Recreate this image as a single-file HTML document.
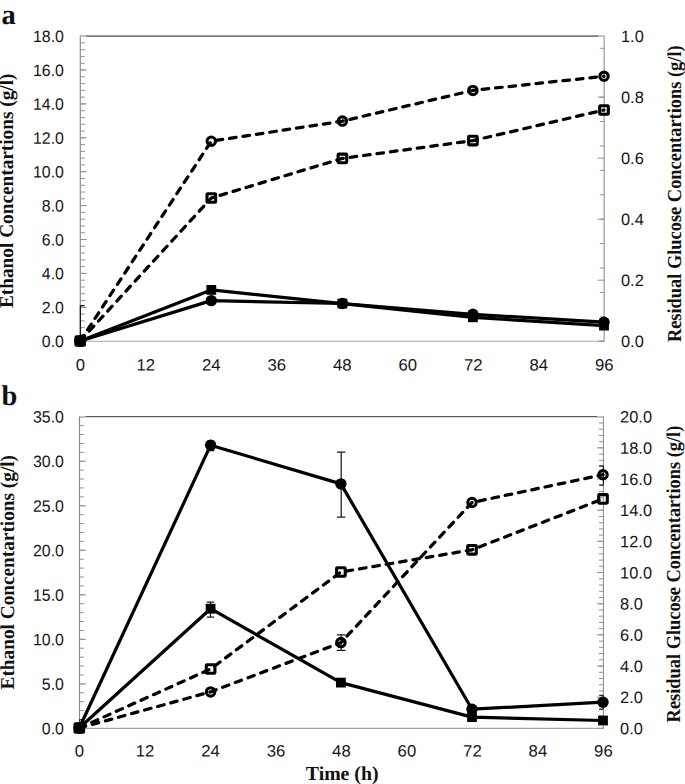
<!DOCTYPE html><html><head><meta charset="utf-8"><title>chart</title><style>
html,body{margin:0;padding:0;background:#fff;}
svg{display:block;position:absolute;left:0;top:0}
text{text-rendering:geometricPrecision}
.t{font-family:"Liberation Sans",sans-serif;font-size:16.4px;fill:#161616}
.b{font-family:"Liberation Serif",serif;font-weight:bold;fill:#111}
</style></head><body>
<svg width="685" height="784" viewBox="0 0 685 784">
<rect width="685" height="784" fill="#fff"/>
<path d="M80.3,36.1H604.2" stroke="#7c7c7c" stroke-width="1.7" fill="none"/>
<path d="M80.3,36.1V341.2" stroke="#8a8a8a" stroke-width="1.15" fill="none"/>
<path d="M604.2,36.1V341.2" stroke="#b2b2b2" stroke-width="1.6" fill="none"/>
<path d="M80.3,341.2H604.2" stroke="#a6a6a6" stroke-width="1.15" fill="none"/>
<path d="M80.3,341.20h4.6M80.3,334.42h4.6M80.3,327.64h4.6M80.3,320.86h4.6M80.3,314.08h4.6M80.3,307.30h4.6M80.3,300.52h4.6M80.3,293.74h4.6M80.3,286.96h4.6M80.3,280.18h4.6M80.3,273.40h4.6M80.3,266.62h4.6M80.3,259.84h4.6M80.3,253.06h4.6M80.3,246.28h4.6M80.3,239.50h4.6M80.3,232.72h4.6M80.3,225.94h4.6M80.3,219.16h4.6M80.3,212.38h4.6M80.3,205.60h4.6M80.3,198.82h4.6M80.3,192.04h4.6M80.3,185.26h4.6M80.3,178.48h4.6M80.3,171.70h4.6M80.3,164.92h4.6M80.3,158.14h4.6M80.3,151.36h4.6M80.3,144.58h4.6M80.3,137.80h4.6M80.3,131.02h4.6M80.3,124.24h4.6M80.3,117.46h4.6M80.3,110.68h4.6M80.3,103.90h4.6M80.3,97.12h4.6M80.3,90.34h4.6M80.3,83.56h4.6M80.3,76.78h4.6M80.3,70.00h4.6M80.3,63.22h4.6M80.3,56.44h4.6M80.3,49.66h4.6M80.3,42.88h4.6M80.3,36.10h4.6M80.3,341.20h6.5M80.3,307.30h6.5M80.3,273.40h6.5M80.3,239.50h6.5M80.3,205.60h6.5M80.3,171.70h6.5M80.3,137.80h6.5M80.3,103.90h6.5M80.3,70.00h6.5M80.3,36.10h6.5" stroke="#939393" stroke-width="1" fill="none"/>
<path d="M604.2,341.20h-4.4M604.2,316.79h-4.4M604.2,292.38h-4.4M604.2,267.98h-4.4M604.2,243.57h-4.4M604.2,219.16h-4.4M604.2,194.75h-4.4M604.2,170.34h-4.4M604.2,145.94h-4.4M604.2,121.53h-4.4M604.2,97.12h-4.4M604.2,72.71h-4.4M604.2,48.30h-4.4M604.2,341.20h-6.5M604.2,280.18h-6.5M604.2,219.16h-6.5M604.2,158.14h-6.5M604.2,97.12h-6.5M604.2,36.10h-6.5" stroke="#939393" stroke-width="1" fill="none"/>
<path d="M80.3,36.1h6M604.2,36.1h-6" stroke="#c4c4c4" stroke-width="1.7" fill="none"/>
<text class="t" transform="translate(63.9,347.1) scale(0.97,1) rotate(0.03)" text-anchor="end">0.0</text>
<text class="t" transform="translate(63.9,313.2) scale(0.97,1) rotate(0.03)" text-anchor="end">2.0</text>
<text class="t" transform="translate(63.9,279.3) scale(0.97,1) rotate(0.03)" text-anchor="end">4.0</text>
<text class="t" transform="translate(63.9,245.4) scale(0.97,1) rotate(0.03)" text-anchor="end">6.0</text>
<text class="t" transform="translate(63.9,211.5) scale(0.97,1) rotate(0.03)" text-anchor="end">8.0</text>
<text class="t" transform="translate(63.9,177.6) scale(0.97,1) rotate(0.03)" text-anchor="end">10.0</text>
<text class="t" transform="translate(63.9,143.7) scale(0.97,1) rotate(0.03)" text-anchor="end">12.0</text>
<text class="t" transform="translate(63.9,109.8) scale(0.97,1) rotate(0.03)" text-anchor="end">14.0</text>
<text class="t" transform="translate(63.9,75.9) scale(0.97,1) rotate(0.03)" text-anchor="end">16.0</text>
<text class="t" transform="translate(63.9,42.0) scale(0.97,1) rotate(0.03)" text-anchor="end">18.0</text>
<text class="t" transform="translate(621.0,347.1) scale(1.0,1) rotate(0.03)" text-anchor="start">0.0</text>
<text class="t" transform="translate(621.0,286.1) scale(1.0,1) rotate(0.03)" text-anchor="start">0.2</text>
<text class="t" transform="translate(621.0,225.1) scale(1.0,1) rotate(0.03)" text-anchor="start">0.4</text>
<text class="t" transform="translate(621.0,164.0) scale(1.0,1) rotate(0.03)" text-anchor="start">0.6</text>
<text class="t" transform="translate(621.0,103.0) scale(1.0,1) rotate(0.03)" text-anchor="start">0.8</text>
<text class="t" transform="translate(621.0,42.0) scale(1.0,1) rotate(0.03)" text-anchor="start">1.0</text>
<text class="t" transform="translate(80.3,370.6) scale(1.02,1) rotate(0.03)" text-anchor="middle">0</text>
<text class="t" transform="translate(145.8,370.6) scale(1.02,1) rotate(0.03)" text-anchor="middle">12</text>
<text class="t" transform="translate(211.3,370.6) scale(1.02,1) rotate(0.03)" text-anchor="middle">24</text>
<text class="t" transform="translate(276.8,370.6) scale(1.02,1) rotate(0.03)" text-anchor="middle">36</text>
<text class="t" transform="translate(342.3,370.6) scale(1.02,1) rotate(0.03)" text-anchor="middle">48</text>
<text class="t" transform="translate(407.7,370.6) scale(1.02,1) rotate(0.03)" text-anchor="middle">60</text>
<text class="t" transform="translate(473.2,370.6) scale(1.02,1) rotate(0.03)" text-anchor="middle">72</text>
<text class="t" transform="translate(538.7,370.6) scale(1.02,1) rotate(0.03)" text-anchor="middle">84</text>
<text class="t" transform="translate(604.2,370.6) scale(1.02,1) rotate(0.03)" text-anchor="middle">96</text>
<path d="M80.4,341V305.6h4.1" stroke="#1a1a1a" stroke-width="1.3" fill="none"/>
<path d="M80.2,341.0 L211.3,141.2 L342.4,121.1 L472.9,90.4 L604.0,76.3" fill="none" stroke="#000" stroke-width="3.25" stroke-dasharray="6.6 6.95" stroke-linecap="round" stroke-linejoin="round"/>
<path d="M80.2,341.0 L211.3,198.0 L342.4,158.4 L472.9,140.6 L604.0,110.0" fill="none" stroke="#000" stroke-width="3.25" stroke-dasharray="6.6 6.95" stroke-linecap="round" stroke-linejoin="round"/>
<path d="M80.2,341.0 L211.3,300.6 L342.4,303.5 L472.9,314.3 L604.0,322.2" fill="none" stroke="#000" stroke-width="3.2" stroke-linejoin="round"/>
<path d="M80.2,341.0 L211.3,289.9 L342.4,303.6 L472.9,317.3 L604.0,325.6" fill="none" stroke="#000" stroke-width="3.2" stroke-linejoin="round"/>
<circle cx="80.2" cy="341.0" r="4.2" fill="none" stroke="#000" stroke-width="3.1"/>
<circle cx="211.3" cy="141.2" r="4.2" fill="none" stroke="#000" stroke-width="3.1"/>
<circle cx="342.4" cy="121.1" r="4.2" fill="none" stroke="#000" stroke-width="3.1"/>
<circle cx="472.9" cy="90.4" r="4.2" fill="none" stroke="#000" stroke-width="3.1"/>
<circle cx="604.0" cy="76.3" r="4.2" fill="none" stroke="#000" stroke-width="3.1"/>
<rect x="75.9" y="336.7" width="8.6" height="8.6" rx="0.6" fill="none" stroke="#000" stroke-width="3.1"/>
<rect x="207.0" y="193.7" width="8.6" height="8.6" rx="0.6" fill="none" stroke="#000" stroke-width="3.1"/>
<rect x="338.1" y="154.1" width="8.6" height="8.6" rx="0.6" fill="none" stroke="#000" stroke-width="3.1"/>
<rect x="468.6" y="136.3" width="8.6" height="8.6" rx="0.6" fill="none" stroke="#000" stroke-width="3.1"/>
<rect x="599.7" y="105.7" width="8.6" height="8.6" rx="0.6" fill="none" stroke="#000" stroke-width="3.1"/>
<circle cx="80.2" cy="341.0" r="5.7" fill="#000"/>
<circle cx="211.3" cy="300.6" r="5.7" fill="#000"/>
<circle cx="342.4" cy="303.5" r="5.7" fill="#000"/>
<circle cx="472.9" cy="314.3" r="5.7" fill="#000"/>
<circle cx="604.0" cy="322.2" r="5.7" fill="#000"/>
<rect x="75.3" y="336.1" width="9.8" height="9.8" fill="#000"/>
<rect x="206.4" y="285.0" width="9.8" height="9.8" fill="#000"/>
<rect x="337.5" y="298.7" width="9.8" height="9.8" fill="#000"/>
<rect x="468.0" y="312.4" width="9.8" height="9.8" fill="#000"/>
<rect x="599.1" y="320.7" width="9.8" height="9.8" fill="#000"/>
<path d="M79.5,416.7H603.4" stroke="#5a5a5a" stroke-width="1.2" fill="none"/>
<path d="M79.5,416.7V728.4" stroke="#8a8a8a" stroke-width="1.15" fill="none"/>
<path d="M603.4,416.7V728.4" stroke="#8f8f8f" stroke-width="1.1" fill="none"/>
<path d="M79.5,728.4H603.4" stroke="#a6a6a6" stroke-width="1.15" fill="none"/>
<path d="M79.5,728.40h4.6M79.5,719.49h4.6M79.5,710.59h4.6M79.5,701.68h4.6M79.5,692.78h4.6M79.5,683.87h4.6M79.5,674.97h4.6M79.5,666.06h4.6M79.5,657.15h4.6M79.5,648.25h4.6M79.5,639.34h4.6M79.5,630.44h4.6M79.5,621.53h4.6M79.5,612.63h4.6M79.5,603.72h4.6M79.5,594.81h4.6M79.5,585.91h4.6M79.5,577.00h4.6M79.5,568.10h4.6M79.5,559.19h4.6M79.5,550.29h4.6M79.5,541.38h4.6M79.5,532.47h4.6M79.5,523.57h4.6M79.5,514.66h4.6M79.5,505.76h4.6M79.5,496.85h4.6M79.5,487.95h4.6M79.5,479.04h4.6M79.5,470.13h4.6M79.5,461.23h4.6M79.5,452.32h4.6M79.5,443.42h4.6M79.5,434.51h4.6M79.5,425.61h4.6M79.5,416.70h4.6M79.5,728.40h6.5M79.5,683.87h6.5M79.5,639.34h6.5M79.5,594.81h6.5M79.5,550.29h6.5M79.5,505.76h6.5M79.5,461.23h6.5M79.5,416.70h6.5" stroke="#939393" stroke-width="1" fill="none"/>
<path d="M603.4,728.40h-4.4M603.4,722.17h-4.4M603.4,715.93h-4.4M603.4,709.70h-4.4M603.4,703.46h-4.4M603.4,697.23h-4.4M603.4,691.00h-4.4M603.4,684.76h-4.4M603.4,678.53h-4.4M603.4,672.29h-4.4M603.4,666.06h-4.4M603.4,659.83h-4.4M603.4,653.59h-4.4M603.4,647.36h-4.4M603.4,641.12h-4.4M603.4,634.89h-4.4M603.4,628.66h-4.4M603.4,622.42h-4.4M603.4,616.19h-4.4M603.4,609.95h-4.4M603.4,603.72h-4.4M603.4,597.49h-4.4M603.4,591.25h-4.4M603.4,585.02h-4.4M603.4,578.78h-4.4M603.4,572.55h-4.4M603.4,566.32h-4.4M603.4,560.08h-4.4M603.4,553.85h-4.4M603.4,547.61h-4.4M603.4,541.38h-4.4M603.4,535.15h-4.4M603.4,528.91h-4.4M603.4,522.68h-4.4M603.4,516.44h-4.4M603.4,510.21h-4.4M603.4,503.98h-4.4M603.4,497.74h-4.4M603.4,491.51h-4.4M603.4,485.27h-4.4M603.4,479.04h-4.4M603.4,472.81h-4.4M603.4,466.57h-4.4M603.4,460.34h-4.4M603.4,454.10h-4.4M603.4,447.87h-4.4M603.4,441.64h-4.4M603.4,435.40h-4.4M603.4,429.17h-4.4M603.4,422.93h-4.4M603.4,416.70h-4.4M603.4,728.40h-6.5M603.4,697.23h-6.5M603.4,666.06h-6.5M603.4,634.89h-6.5M603.4,603.72h-6.5M603.4,572.55h-6.5M603.4,541.38h-6.5M603.4,510.21h-6.5M603.4,479.04h-6.5M603.4,447.87h-6.5M603.4,416.70h-6.5" stroke="#939393" stroke-width="1" fill="none"/>
<path d="M79.5,416.7h6M603.4,416.7h-6" stroke="#c4c4c4" stroke-width="1.2" fill="none"/>
<text class="t" transform="translate(63.9,734.3) scale(0.97,1) rotate(0.03)" text-anchor="end">0.0</text>
<text class="t" transform="translate(63.9,689.8) scale(0.97,1) rotate(0.03)" text-anchor="end">5.0</text>
<text class="t" transform="translate(63.9,645.2) scale(0.97,1) rotate(0.03)" text-anchor="end">10.0</text>
<text class="t" transform="translate(63.9,600.7) scale(0.97,1) rotate(0.03)" text-anchor="end">15.0</text>
<text class="t" transform="translate(63.9,556.2) scale(0.97,1) rotate(0.03)" text-anchor="end">20.0</text>
<text class="t" transform="translate(63.9,511.7) scale(0.97,1) rotate(0.03)" text-anchor="end">25.0</text>
<text class="t" transform="translate(63.9,467.1) scale(0.97,1) rotate(0.03)" text-anchor="end">30.0</text>
<text class="t" transform="translate(63.9,422.6) scale(0.97,1) rotate(0.03)" text-anchor="end">35.0</text>
<text class="t" transform="translate(620.1,734.3) scale(1.0,1) rotate(0.03)" text-anchor="start">0.0</text>
<text class="t" transform="translate(620.1,703.1) scale(1.0,1) rotate(0.03)" text-anchor="start">2.0</text>
<text class="t" transform="translate(620.1,672.0) scale(1.0,1) rotate(0.03)" text-anchor="start">4.0</text>
<text class="t" transform="translate(620.1,640.8) scale(1.0,1) rotate(0.03)" text-anchor="start">6.0</text>
<text class="t" transform="translate(620.1,609.6) scale(1.0,1) rotate(0.03)" text-anchor="start">8.0</text>
<text class="t" transform="translate(620.1,578.4) scale(1.0,1) rotate(0.03)" text-anchor="start">10.0</text>
<text class="t" transform="translate(620.1,547.3) scale(1.0,1) rotate(0.03)" text-anchor="start">12.0</text>
<text class="t" transform="translate(620.1,516.1) scale(1.0,1) rotate(0.03)" text-anchor="start">14.0</text>
<text class="t" transform="translate(620.1,484.9) scale(1.0,1) rotate(0.03)" text-anchor="start">16.0</text>
<text class="t" transform="translate(620.1,453.8) scale(1.0,1) rotate(0.03)" text-anchor="start">18.0</text>
<text class="t" transform="translate(620.1,422.6) scale(1.0,1) rotate(0.03)" text-anchor="start">20.0</text>
<text class="t" transform="translate(79.5,756.5) scale(1.02,1) rotate(0.03)" text-anchor="middle">0</text>
<text class="t" transform="translate(145.0,756.5) scale(1.02,1) rotate(0.03)" text-anchor="middle">12</text>
<text class="t" transform="translate(210.5,756.5) scale(1.02,1) rotate(0.03)" text-anchor="middle">24</text>
<text class="t" transform="translate(276.0,756.5) scale(1.02,1) rotate(0.03)" text-anchor="middle">36</text>
<text class="t" transform="translate(341.4,756.5) scale(1.02,1) rotate(0.03)" text-anchor="middle">48</text>
<text class="t" transform="translate(406.9,756.5) scale(1.02,1) rotate(0.03)" text-anchor="middle">60</text>
<text class="t" transform="translate(472.4,756.5) scale(1.02,1) rotate(0.03)" text-anchor="middle">72</text>
<text class="t" transform="translate(537.9,756.5) scale(1.02,1) rotate(0.03)" text-anchor="middle">84</text>
<text class="t" transform="translate(603.4,756.5) scale(1.02,1) rotate(0.03)" text-anchor="middle">96</text>
<path d="M341.2,452.0V517.2M337.0,452.0h8.4M337.0,517.2h8.4" stroke="#1c1c1c" stroke-width="1.25" fill="none"/>
<path d="M210.5,602.0V617.0M206.8,602.0h7.4M206.8,617.0h7.4" stroke="#1c1c1c" stroke-width="1.25" fill="none"/>
<path d="M341.2,634.9V650.4M336.9,634.9h8.6M336.9,650.4h8.6" stroke="#1c1c1c" stroke-width="1.25" fill="none"/>
<path d="M210.7,441.0V450.5M207.0,441.0h7.4M207.0,450.5h7.4" stroke="#1c1c1c" stroke-width="1.25" fill="none"/>
<path d="M603.4,465.8V485.1M599.2,465.8h4.2M599.2,485.1h4.2" stroke="#222" stroke-width="1.2" fill="none"/>
<path d="M603.4,695.4V709.1M599.2,695.4h4.2M599.2,709.1h4.2" stroke="#222" stroke-width="1.2" fill="none"/>
<path d="M79.7,728V719.7h2.7" stroke="#222" stroke-width="1.1" fill="none"/>
<path d="M79.3,728.0 L210.6,691.9 L340.9,642.6 L472.0,502.5 L603.0,474.7" fill="none" stroke="#000" stroke-width="3.25" stroke-dasharray="6.6 6.95" stroke-linecap="round" stroke-linejoin="round"/>
<path d="M79.3,728.0 L210.6,669.0 L340.9,572.0 L472.0,549.8 L603.0,498.9" fill="none" stroke="#000" stroke-width="3.25" stroke-dasharray="6.6 6.95" stroke-linecap="round" stroke-linejoin="round"/>
<path d="M79.3,728.0 L210.6,445.2 L340.9,483.9 L472.0,709.2 L603.0,702.2" fill="none" stroke="#000" stroke-width="3.2" stroke-linejoin="round"/>
<path d="M79.3,728.0 L210.6,608.7 L340.9,682.6 L472.0,717.1 L603.0,720.5" fill="none" stroke="#000" stroke-width="3.2" stroke-linejoin="round"/>
<circle cx="79.3" cy="728.0" r="4.2" fill="none" stroke="#000" stroke-width="3.1"/>
<circle cx="210.6" cy="691.9" r="4.2" fill="none" stroke="#000" stroke-width="3.1"/>
<circle cx="340.9" cy="642.6" r="4.2" fill="none" stroke="#000" stroke-width="3.1"/>
<circle cx="472.0" cy="502.5" r="4.2" fill="none" stroke="#000" stroke-width="3.1"/>
<circle cx="603.0" cy="474.7" r="4.2" fill="none" stroke="#000" stroke-width="3.1"/>
<rect x="75.0" y="723.7" width="8.6" height="8.6" rx="0.6" fill="none" stroke="#000" stroke-width="3.1"/>
<rect x="206.3" y="664.7" width="8.6" height="8.6" rx="0.6" fill="none" stroke="#000" stroke-width="3.1"/>
<rect x="336.6" y="567.7" width="8.6" height="8.6" rx="0.6" fill="none" stroke="#000" stroke-width="3.1"/>
<rect x="467.7" y="545.5" width="8.6" height="8.6" rx="0.6" fill="none" stroke="#000" stroke-width="3.1"/>
<rect x="598.7" y="494.6" width="8.6" height="8.6" rx="0.6" fill="none" stroke="#000" stroke-width="3.1"/>
<circle cx="79.3" cy="728.0" r="5.7" fill="#000"/>
<circle cx="210.6" cy="445.2" r="5.7" fill="#000"/>
<circle cx="340.9" cy="483.9" r="5.7" fill="#000"/>
<circle cx="472.0" cy="709.2" r="5.7" fill="#000"/>
<circle cx="603.0" cy="702.2" r="5.7" fill="#000"/>
<rect x="74.4" y="723.1" width="9.8" height="9.8" fill="#000"/>
<rect x="205.7" y="603.8" width="9.8" height="9.8" fill="#000"/>
<rect x="336.0" y="677.7" width="9.8" height="9.8" fill="#000"/>
<rect x="467.1" y="712.2" width="9.8" height="9.8" fill="#000"/>
<rect x="598.1" y="715.6" width="9.8" height="9.8" fill="#000"/>
<text class="b" font-size="28.5" x="1.5" y="23.8">a</text>
<text class="b" font-size="28.5" x="1.5" y="404.5">b</text>
<text class="b" font-size="19.8" transform="translate(12.9,308.0) rotate(-90) scale(0.974,1)">Ethanol Concentartions (g/l)</text>
<text class="b" font-size="19.8" transform="translate(13.6,689.4) rotate(-90) scale(0.974,1)">Ethanol Concentartions (g/l)</text>
<text class="b" font-size="19.8" transform="translate(680.7,342.1) rotate(-90) scale(0.9295,1)">Residual Glucose Concentartions (g/l)</text>
<text class="b" font-size="19.8" transform="translate(680.1,722.4) rotate(-90) scale(0.9295,1)">Residual Glucose Concentartions (g/l)</text>
<text class="b" font-size="19.8" x="305.8" y="779.8">Time (h)</text>
</svg></body></html>
